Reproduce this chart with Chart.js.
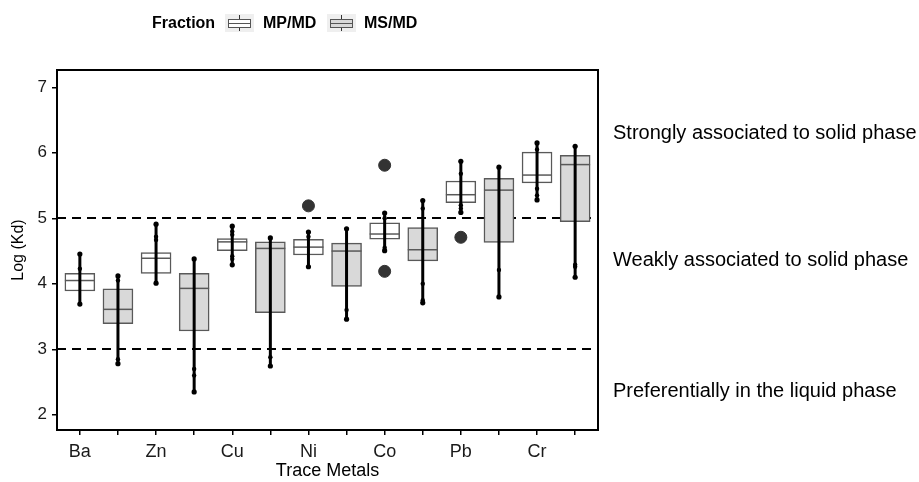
<!DOCTYPE html>
<html>
<head>
<meta charset="utf-8">
<script src="https://cdn.jsdelivr.net/npm/chart.js@4"></script>
<style>
html,body{margin:0;padding:0;background:#fff;}
#wrap{width:919px;height:482px;}
</style>
</head>
<body>
<div id="wrap"><canvas id="c" width="919" height="482"></canvas></div>
<script>
// ---- data ----
const metals = ['Ba','Zn','Cu','Ni','Co','Pb','Cr'];
const fractions = ['MP/MD','MS/MD'];
// MP/MD
const mpLow    = [3.69, 4.01, 4.29, 4.26, 4.505, 5.09, 5.28];
const mpQ1     = [3.89, 4.16, 4.505, 4.44, 4.68, 5.24, 5.54];
const mpMedian = [4.05, 4.39, 4.64, 4.56, 4.76, 5.36, 5.66];
const mpQ3     = [4.16, 4.475, 4.69, 4.68, 4.93, 5.57, 6.01];
const mpHigh   = [4.455, 4.91, 4.88, 4.79, 5.08, 5.87, 6.15];
const mpPoints = [[4.23], [4.72, 4.67], [4.80, 4.75, 4.38, 4.42], [4.72], [5.0, 4.55], [5.68, 5.15, 5.2], [6.05, 5.45, 5.35]];
// MS/MD
const msLow    = [2.78, 2.35, 2.745, 3.46, 3.71, 3.80, 4.10];
const msQ1     = [3.39, 3.28, 3.56, 3.96, 4.35, 4.63, 4.95];
const msMedian = [3.61, 3.93, 4.54, 4.50, 4.52, 5.43, 5.82];
const msQ3     = [3.925, 4.16, 4.64, 4.62, 4.86, 5.61, 5.96];
const msHigh   = [4.12, 4.38, 4.70, 4.84, 5.27, 5.78, 6.10];
const msPoints = [[2.85, 4.05], [2.6, 2.7], [2.88], [3.6], [3.75, 4.0, 5.15], [4.21], [4.29, 4.26]];
// outliers (MP/MD fraction)
const outlierMetal = ['Ni','Co','Co','Pb'];
const outlierValue = [5.19, 5.81, 4.19, 4.71];
// reference thresholds and zone labels
const thresholds = [5, 3];
const zoneLabels = ['Strongly associated to solid phase','Weakly associated to solid phase','Preferentially in the liquid phase'];
const zoneLabelY = [6.3, 4.35, 2.36];
const yTicks = [2,3,4,5,6,7];

// ---- helpers ----
const pos = (mi, fi) => mi*2 + fi;
const FONT = '"Liberation Sans", Arial, sans-serif';
const groups = [
  {low:mpLow,q1:mpQ1,med:mpMedian,q3:mpQ3,high:mpHigh,pts:mpPoints,fill:'#FFFFFF'},
  {low:msLow,q1:msQ1,med:msMedian,q3:msQ3,high:msHigh,pts:msPoints,fill:'#D9D9D9'}
];

const boxData = (g, fi) => metals.map((m,i)=>({x:pos(i,fi), y:[g.q1[i], g.q3[i]]}));
const outlierData = outlierMetal.map((m,k)=>({x:pos(metals.indexOf(m),0), y:outlierValue[k]}));

function drawKey(ctx, x, y, fill){
  ctx.save();
  ctx.fillStyle='#EFEFEF';
  ctx.fillRect(x, y, 29, 18);
  ctx.strokeStyle='#333'; ctx.lineWidth=1;
  ctx.beginPath(); ctx.moveTo(x+14.5, y+1); ctx.lineTo(x+14.5, y+17); ctx.stroke();
  ctx.fillStyle=fill;
  ctx.fillRect(x+3.5, y+5.5, 22, 8);
  ctx.strokeStyle='#555';
  ctx.strokeRect(x+3.5, y+5.5, 22, 8);
  ctx.beginPath(); ctx.moveTo(x+3.5, y+9.5); ctx.lineTo(x+25.5, y+9.5); ctx.stroke();
  ctx.restore();
}

const boxPlugin = {
  id:'boxplot',
  beforeDatasetsDraw(chart){
    const {ctx, chartArea:a, scales:{y}} = chart;
    ctx.save();
    ctx.strokeStyle='#000'; ctx.lineWidth=2; ctx.setLineDash([9,6]);
    thresholds.forEach(v=>{
      const py=Math.round(y.getPixelForValue(v));
      ctx.beginPath(); ctx.moveTo(a.left, py); ctx.lineTo(a.right, py); ctx.stroke();
    });
    ctx.restore();
  },
  afterDatasetsDraw(chart){
    const {ctx, scales:{x,y}} = chart;
    ctx.save();
    groups.forEach((g,fi)=>{
      metals.forEach((m,i)=>{
        const px = x.getPixelForValue(pos(i,fi));
        // median
        ctx.strokeStyle='#595959'; ctx.lineWidth=1.5;
        const pm = y.getPixelForValue(g.med[i]);
        ctx.beginPath(); ctx.moveTo(px-15, pm); ctx.lineTo(px+15, pm); ctx.stroke();
        // whisker
        const pl = y.getPixelForValue(g.low[i]), ph = y.getPixelForValue(g.high[i]);
        ctx.strokeStyle='#000'; ctx.lineWidth=3;
        ctx.beginPath(); ctx.moveTo(px, pl); ctx.lineTo(px, ph); ctx.stroke();
        ctx.fillStyle='#000';
        [pl,ph].forEach(pp=>{ctx.beginPath(); ctx.arc(px, pp, 2.6, 0, Math.PI*2); ctx.fill();});
        g.pts[i].forEach(v=>{ctx.beginPath(); ctx.arc(px, y.getPixelForValue(v), 2.2, 0, Math.PI*2); ctx.fill();});
      });
    });
    ctx.restore();
  },
  afterDraw(chart){
    const {ctx, chartArea:a, scales:{y}} = chart;
    ctx.save();
    // panel border
    ctx.strokeStyle='#000'; ctx.lineWidth=2;
    ctx.strokeRect(a.left, a.top, a.right-a.left, a.bottom-a.top);
    // legend
    ctx.fillStyle='#000';
    ctx.textBaseline='middle'; ctx.textAlign='left';
    ctx.font='bold 16px '+FONT;
    ctx.fillText('Fraction', 152, 24);
    drawKey(ctx, 225, 14, groups[0].fill);
    ctx.fillText(fractions[0], 263, 24);
    drawKey(ctx, 327, 14, groups[1].fill);
    ctx.fillText(fractions[1], 364, 24);
    // zone labels
    ctx.font='20px '+FONT;
    zoneLabels.forEach((t,k)=>{
      ctx.fillText(t, 613, y.getPixelForValue(zoneLabelY[k]));
    });
    ctx.restore();
  }
};

new Chart(document.getElementById('c'), {
  type:'bar',
  data:{
    datasets:[
      {label:fractions[0], data:boxData(groups[0],0), backgroundColor:groups[0].fill, borderColor:'#595959', borderWidth:1.5, borderSkipped:false, barThickness:30, grouped:false},
      {label:fractions[1], data:boxData(groups[1],1), backgroundColor:groups[1].fill, borderColor:'#595959', borderWidth:1.5, borderSkipped:false, barThickness:30, grouped:false},
      {type:'scatter', label:'outliers', data:outlierData, backgroundColor:'#333333', borderColor:'#333333', pointRadius:6, pointHoverRadius:6}
    ]
  },
  options:{
    responsive:false,
    animation:false,
    devicePixelRatio:1,
    layout:{padding:{top:70,right:321,bottom:0,left:0}},
    plugins:{legend:{display:false}, tooltip:{enabled:false}},
    scales:{
      x:{
        type:'linear', min:-0.6, max:13.6, offset:false,
        afterBuildTicks(s){ s.ticks = metals.flatMap((m,i)=>[{value:pos(i,0)},{value:pos(i,1)}]); },
        afterFit(s){ s.height = 52; },
        ticks:{ autoSkip:false, maxRotation:0, padding:6, color:'#1a1a1a', font:{size:18, family:FONT},
          callback:(v)=> (v%2===0 ? metals[v/2] : '') },
        grid:{ offset:false, drawOnChartArea:false, drawTicks:true, tickLength:5, color:'#000', lineWidth:1.5 },
        border:{display:false},
        title:{ display:true, text:'Trace Metals', color:'#000', font:{size:18, family:FONT}, padding:{top:0,bottom:0} }
      },
      y:{
        type:'linear', min:1.768, max:7.264,
        afterBuildTicks(s){ s.ticks = yTicks.map(v=>({value:v})); },
        afterFit(s){ s.width = 57; },
        ticks:{ padding:5, color:'#1a1a1a', font:{size:17, family:FONT} },
        grid:{ offset:false, drawOnChartArea:false, drawTicks:true, tickLength:5, color:'#000', lineWidth:1.5 },
        border:{display:false},
        title:{ display:true, text:'Log (Kd)', color:'#000', font:{size:16, family:FONT}, padding:{top:9,bottom:0} }
      }
    }
  },
  plugins:[boxPlugin]
});
</script>
</body>
</html>
